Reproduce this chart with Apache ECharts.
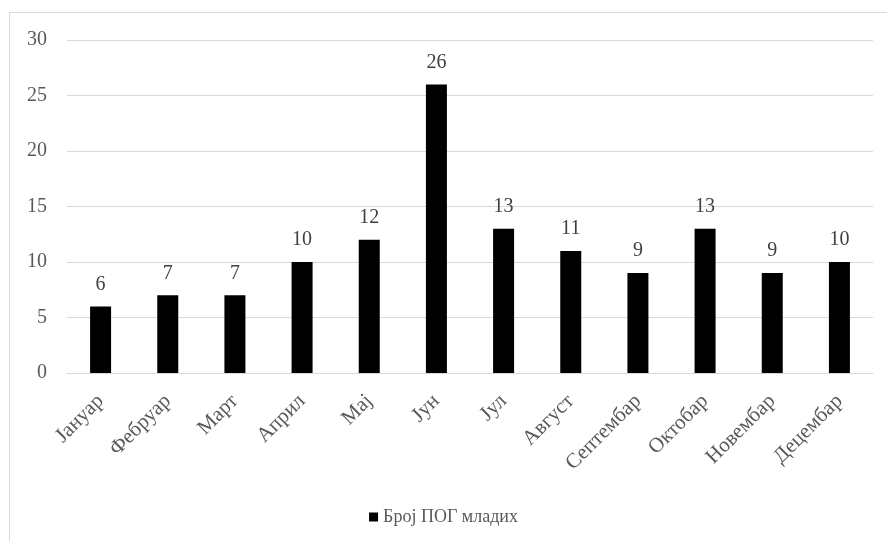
<!DOCTYPE html>
<html><head><meta charset="utf-8">
<script src="https://cdn.jsdelivr.net/npm/echarts@6/dist/echarts.min.js"></script>
<style>html,body{margin:0;padding:0;background:#fff}#c{width:887px;height:541px}</style>
</head><body><div id="c"></div>
<script>
const categories = ['Јануар','Фебруар','Март','Април','Мај','Јун','Јул','Август','Септембар','Октобар','Новембар','Децембар'];
const values = [6,7,7,10,12,26,13,11,9,13,9,10];
const seriesName = 'Број ПОГ младих';
const yTicks = [0,5,10,15,20,25,30];

const font = '"Liberation Serif", "Times New Roman", serif';
const chart = echarts.init(document.getElementById('c'), null, {renderer:'canvas'});
chart.setOption({
  animation:false,
  textStyle:{fontFamily:font},
  graphic:[{type:'rect',shape:{x:9.5,y:12.5,width:900,height:600},style:{fill:'none',stroke:'#d9d9d9',lineWidth:1}}],
  grid:{left:67,right:14,top:40,bottom:168},
  legend:{top:503,left:'center',itemWidth:9,itemHeight:9,itemGap:9,icon:'rect',
    textStyle:{fontFamily:font,fontSize:18,color:'#595959'},data:[seriesName]},
  xAxis:{type:'category',data:categories,
    axisLine:{lineStyle:{color:'#d9d9d9',width:1}},axisTick:{show:false},
    axisLabel:{rotate:45,fontFamily:font,fontSize:21,color:'#595959',margin:25,interval:0}},
  yAxis:{type:'value',min:yTicks[0],max:yTicks[yTicks.length-1],interval:5,
    axisLine:{show:false},axisTick:{show:false},
    splitLine:{lineStyle:{color:'#d9d9d9',width:1}},
    axisLabel:{fontFamily:font,fontSize:20,color:'#595959',margin:20}},
  series:[{name:seriesName,type:'bar',data:values,barWidth:21,
    itemStyle:{color:'#000000'},
    label:{show:true,position:'top',distance:12,fontFamily:font,fontSize:20,color:'#404040'}}]
});
</script></body></html>
